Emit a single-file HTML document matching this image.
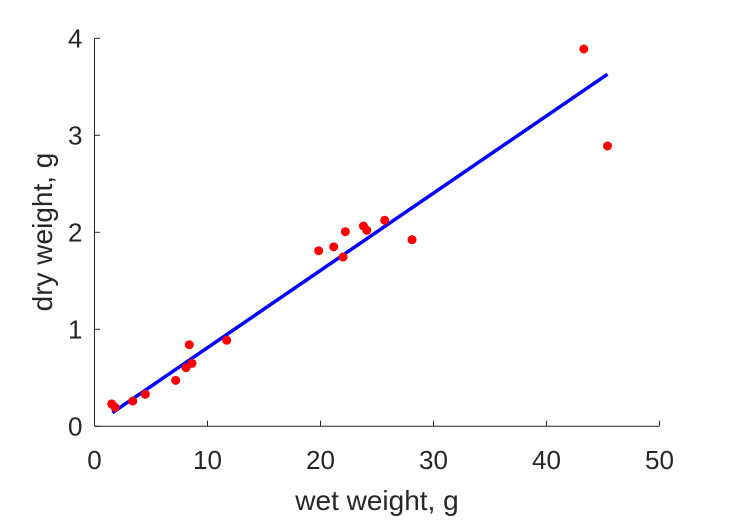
<!DOCTYPE html>
<html><head><meta charset="utf-8"><style>
html,body{margin:0;padding:0;background:#fff;}
svg{display:block;font-family:"Liberation Sans",Arial,sans-serif;}
</style></head><body>
<svg id="chart" width="729" height="521">
<g id="axes"></g>
<g id="marks"></g>
<text x="377" y="510" font-size="28" fill="#262626" text-anchor="middle">wet weight, g</text>
<text transform="translate(52,232) rotate(-90)" font-size="28" fill="#262626" text-anchor="middle">dry weight, g</text>
</svg>
<script>
const wetWeight = [1.52,1.81,3.38,4.5,7.18,8.1,8.63,8.39,11.7,19.84,21.17,22.2,22.0,23.8,24.1,25.68,28.1,43.3,45.4];
const dryWeight = [0.231,0.196,0.26,0.33,0.474,0.604,0.649,0.841,0.887,1.81,1.85,2.006,1.745,2.065,2.02,2.124,1.924,3.89,2.89];
const fitX = [1.58,45.4];
const fitY = [0.14,3.63];
const xTicks = [0,10,20,30,40,50];
const yTicks = [0,1,2,3,4];

const NS="http://www.w3.org/2000/svg";
const X0=94.5,X1=659.5,Y0=426.3,Y1=38.3;
const xs=v=>X0+(v-0)/(50-0)*(X1-X0);
const ys=v=>Y0-(v-0)/(4-0)*(Y0-Y1);
function mk(tag,attrs,parent){const e=document.createElementNS(NS,tag);for(const k in attrs)e.setAttribute(k,attrs[k]);parent.appendChild(e);return e;}
const axes=document.getElementById('axes'),marks=document.getElementById('marks');
let l=mk('line',{x1:X0,y1:Y0,x2:X1,y2:Y0,stroke:'#262626','stroke-width':1},axes);


l=mk('line',{x1:X0,y1:Y0,x2:X0,y2:Y1,stroke:'#262626','stroke-width':1},axes);


xTicks.forEach(t=>{
  const tk=mk('line',{x1:xs(t),y1:Y0,x2:xs(t),y2:Y0-5.5,stroke:'#262626'},axes);
  
  
  const tx=mk('text',{x:xs(t),y:469,'font-size':26,fill:'#262626','text-anchor':'middle'},axes);
  tx.textContent=t;
  
  
});
yTicks.forEach(t=>{
  const tk=mk('line',{x1:X0,y1:ys(t),x2:X0+5.5,y2:ys(t),stroke:'#262626'},axes);
  
  
  const tx=mk('text',{x:X0-12,y:ys(t)+9,'font-size':26,fill:'#262626','text-anchor':'end'},axes);
  tx.textContent=t;
  
  
});
const fl=mk('line',{x1:xs(fitX[0]),y1:ys(fitY[0]),x2:xs(fitX[1]),y2:ys(fitY[1]),stroke:'#0000ff','stroke-width':3.5},marks);


wetWeight.forEach((w,i)=>{
  const c=mk('circle',{cx:xs(w),cy:ys(dryWeight[i]),r:4.5,fill:'#ff0000'},marks);
  
  
});
</script>
</body></html>
